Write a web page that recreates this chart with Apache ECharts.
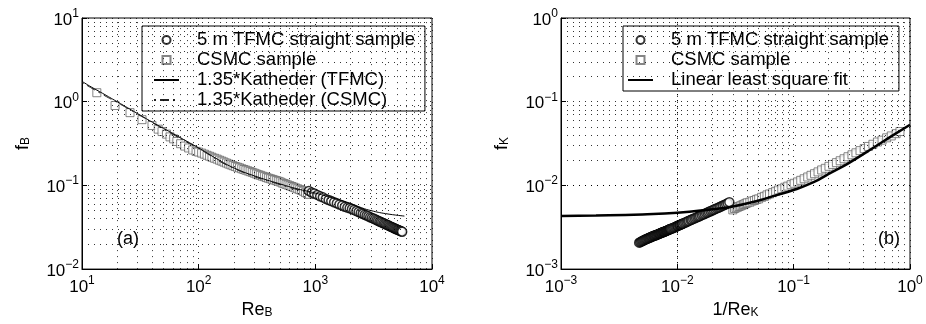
<!DOCTYPE html>
<html><head><meta charset="utf-8">
<script src="https://cdn.jsdelivr.net/npm/echarts@6/dist/echarts.min.js"></script>
<style>html,body{margin:0;padding:0;background:#fff}#c{width:926px;height:324px}</style>
</head><body><div id="c"></div>
<script>
// ---------- data ----------
const leftCsmc = [[13.4,1.28],[19.2,0.90],[25.8,0.74],[32.7,0.61],[39.8,0.52],[45,0.47],[48.5,0.44],[53,0.41],[56.8,0.38],[61,0.36],[65,0.335],[70,0.315],[76,0.295],[82,0.28],[89,0.265],[95,0.255],[100,0.25],[106,0.243],[112,0.236],[118,0.229],[124,0.223],[130,0.217],[137,0.211],[144,0.206],[151,0.2],[158,0.195],[165,0.19],[173,0.185],[181,0.18],[189,0.176],[197,0.172],[206,0.168],[215,0.165],[224,0.162],[234,0.158],[244,0.155],[254,0.152],[265,0.149],[276,0.146],[288,0.143],[300,0.14],[312,0.137],[325,0.134],[338,0.132],[352,0.129],[366,0.127],[381,0.124],[396,0.122],[412,0.12],[428,0.118],[445,0.116],[463,0.114],[481,0.112],[500,0.11],[520,0.107],[540,0.105],[561,0.103],[583,0.101],[606,0.099],[630,0.097],[655,0.095],[680,0.093],[707,0.091],[735,0.089],[763,0.087],[793,0.085],[824,0.082],[856,0.08],[890,0.078]];
const leftTfmc = [[880,0.086],[930,0.082],[980,0.08],[1040,0.077],[1100,0.074],[1160,0.072],[1230,0.069],[1300,0.067],[1370,0.065],[1450,0.063],[1530,0.0612],[1610,0.0592],[1700,0.0575],[1790,0.0557],[1880,0.0543],[1970,0.0533],[2060,0.0522],[2150,0.0508],[2250,0.0494],[2350,0.0481],[2450,0.0469],[2550,0.0458],[2650,0.0447],[2750,0.0436],[2850,0.0427],[2950,0.0417],[3050,0.0409],[3150,0.0401],[3250,0.0393],[3350,0.0385],[3450,0.0378],[3550,0.0371],[3650,0.0365],[3750,0.0358],[3850,0.0352],[3950,0.0347],[4050,0.0341],[4150,0.0336],[4250,0.0331],[4350,0.0326],[4450,0.0321],[4550,0.0317],[4650,0.0312],[4750,0.0308],[4850,0.0304],[4950,0.03],[5050,0.0296],[5150,0.0293],[5250,0.0289],[5350,0.0286],[5450,0.0283],[5550,0.028]];
const leftKathTfmc = [[10,1.75],[12,1.5],[15,1.26],[20,1.0],[30,0.72],[40,0.57],[50,0.48],[70,0.37],[100,0.28],[150,0.2],[200,0.162],[300,0.13],[500,0.104],[700,0.091],[1000,0.081],[1500,0.069],[2000,0.061],[2500,0.054],[3000,0.05],[4000,0.046],[5800,0.043]];
const leftKathCsmc = [[10,1.7],[15,1.22],[20,0.98],[30,0.71],[50,0.47],[100,0.275],[200,0.16],[500,0.102],[1000,0.079]];
const rightTfmc = [[0.0047,0.00207],[0.0048,0.0021],[0.0049,0.00213],[0.005,0.00216],[0.0051,0.00219],[0.0052,0.00222],[0.0053,0.00225],[0.0054,0.00228],[0.0055,0.0023],[0.0056,0.00233],[0.0057,0.00235],[0.0058,0.00238],[0.0059,0.0024],[0.006,0.00243],[0.0061,0.00245],[0.0062,0.00248],[0.0063,0.0025],[0.0064,0.00252],[0.0065,0.00254],[0.0066,0.00256],[0.0067,0.00258],[0.0068,0.0026],[0.0069,0.00263],[0.007,0.00265],[0.0071,0.00267],[0.0072,0.0027],[0.0073,0.00272],[0.0074,0.00274],[0.0075,0.00276],[0.0076,0.00278],[0.0077,0.0028],[0.0078,0.00282],[0.0079,0.00284],[0.008,0.00286],[0.0081,0.00288],[0.0082,0.0029],[0.0083,0.00292],[0.0084,0.00294],[0.0085,0.00297],[0.0086,0.00299],[0.0087,0.00301],[0.0088,0.00303],[0.009,0.00306],[0.0092,0.0031],[0.0094,0.00314],[0.0096,0.00318],[0.0098,0.00323],[0.01,0.00327],[0.0101,0.00329],[0.0103,0.00333],[0.0105,0.00337],[0.0106,0.00339],[0.0108,0.00343],[0.011,0.00347],[0.0111,0.00349],[0.0114,0.00354],[0.0117,0.0036],[0.012,0.00366],[0.0123,0.00372],[0.0126,0.00378],[0.013,0.00385],[0.0133,0.00391],[0.0137,0.00398],[0.0141,0.00405],[0.0145,0.00412],[0.0149,0.00419],[0.0153,0.00426],[0.0157,0.00433],[0.0162,0.00441],[0.0167,0.0045],[0.0172,0.00458],[0.0177,0.00466],[0.0182,0.00474],[0.0187,0.00483],[0.0193,0.00492],[0.0199,0.00502],[0.0205,0.00511],[0.0211,0.00521],[0.0218,0.00531],[0.0225,0.00542],[0.0232,0.00552],[0.0239,0.00563],[0.0247,0.00574],[0.0255,0.00586],[0.0263,0.00597],[0.0271,0.00611],[0.028,0.0063]];
const rightCsmc = [[0.03,0.0051],[0.031,0.0053],[0.032,0.0054],[0.033,0.0055],[0.034,0.0056],[0.035,0.0057],[0.036,0.0058],[0.037,0.0059],[0.038,0.006],[0.039,0.0061],[0.04,0.0062],[0.042,0.0063],[0.044,0.0065],[0.046,0.0066],[0.048,0.0068],[0.05,0.0069],[0.053,0.0072],[0.056,0.0074],[0.059,0.0077],[0.062,0.0079],[0.066,0.0082],[0.07,0.0085],[0.074,0.0088],[0.079,0.0091],[0.084,0.0095],[0.089,0.0098],[0.095,0.0102],[0.101,0.0106],[0.108,0.011],[0.115,0.0115],[0.123,0.012],[0.132,0.0126],[0.141,0.0132],[0.151,0.0138],[0.162,0.0145],[0.174,0.0153],[0.187,0.016],[0.201,0.0169],[0.216,0.0178],[0.233,0.0187],[0.251,0.0197],[0.271,0.0208],[0.293,0.022],[0.317,0.0232],[0.343,0.0245],[0.372,0.026],[0.404,0.0275],[0.44,0.0292],[0.48,0.031],[0.525,0.033],[0.575,0.0347],[0.63,0.037],[0.69,0.039],[0.76,0.0415],[0.82,0.044]];
const rightFit = [[0.001,0.00432],[0.002,0.00437],[0.005,0.0045],[0.01,0.0047],[0.02,0.0052],[0.03,0.0056],[0.05,0.0066],[0.07,0.0076],[0.1,0.0088],[0.15,0.011],[0.2,0.0137],[0.3,0.0186],[0.5,0.029],[0.7,0.039],[1.0,0.053]];
const leftXRange = [10, 10000], leftYRange = [0.01, 10];
const rightXRange = [0.001, 1], rightYRange = [0.001, 1];
const names = {
  tfmc: '5 m TFMC straight sample', csmc: 'CSMC sample',
  kt: '1.35*Katheder (TFMC)', kc: '1.35*Katheder (CSMC)', fit: 'Linear least square fit'
};
const axisNames = { lx: '{a|Re}{s|B}', ly: '{a|f}{s|B}', rx: '{a|1/Re}{s|K}', ry: '{a|f}{s|K}' };

// ---------- helpers ----------
const F = 'Liberation Sans, Arial, Helvetica, sans-serif';
function minorVals(min, max) {
  const out = [];
  for (let e = Math.round(Math.log10(min)); e < Math.round(Math.log10(max)); e++)
    for (let m = 2; m <= 9; m++) out.push(+(m * Math.pow(10, e)).toPrecision(6));
  return out;
}
function expLabel(v) {
  const e = Math.round(Math.log10(v));
  return '{b|10}{s|' + (e < 0 ? '\u2212' + (-e) : e) + '}';
}
const labRich = {
  b: { fontSize: 17, fontFamily: F, color: '#000', lineHeight: 21, verticalAlign: 'bottom' },
  s: { fontSize: 12, fontFamily: F, color: '#000', lineHeight: 12, verticalAlign: 'top' }
};
const nameRich = {
  a: { fontSize: 18, fontFamily: F, color: '#000', lineHeight: 18, verticalAlign: 'top' },
  s: { fontSize: 12, fontFamily: F, color: '#000', lineHeight: 12, verticalAlign: 'bottom' }
};
const dotted = { type: [1, 5], color: '#000', width: 1, opacity: 0.8 };
function mkAxis(dim, gi, range, name, gap) {
  return {
    type: 'log', logBase: 10, gridIndex: gi, min: range[0], max: range[1],
    name: name, nameLocation: 'middle', nameGap: gap, nameRotate: dim === 'y' ? 90 : 0,
    nameTextStyle: { rich: nameRich },
    axisLine: { show: true, onZero: false, lineStyle: { color: '#000', width: 1 } },
    axisTick: { show: true, inside: true, length: 5, lineStyle: { color: '#000' } },
    axisLabel: { margin: dim === 'y' ? 3 : 6, formatter: expLabel, rich: labRich, showMinLabel: true, showMaxLabel: true },
    splitLine: { show: true, lineStyle: dotted }
  };
}
function gridLines(xr, yr) {
  return {
    silent: true, symbol: 'none', animation: false,
    label: { show: false }, lineStyle: dotted, emphasis: { disabled: true },
    data: minorVals(xr[0], xr[1]).map(v => ({ xAxis: v })).concat(minorVals(yr[0], yr[1]).map(v => ({ yAxis: v })))
  };
}
const circleStyle = { color: '#fff', borderColor: '#000', borderWidth: 1.5 };
const squareStyle = { color: '#fff', borderColor: '#666', borderWidth: 1 };
const squareIcon = 'path://M0,0H10V10H0Z';
const legendText = { fontSize: 18.5, fontFamily: F, color: '#000', lineHeight: 20, padding: [0, 0, 0, 13] };
const legendBase = {
  orient: 'vertical', backgroundColor: '#fff', borderColor: '#000', borderWidth: 1,
  itemGap: 0, itemWidth: 25, itemHeight: 8, selectedMode: false, textStyle: legendText
};
const noSymbol = { color: 'rgba(0,0,0,0)', borderColor: 'rgba(0,0,0,0)' };

const chart = echarts.init(document.getElementById('c'), null, { renderer: 'canvas' });
chart.setOption({
  animation: false,
  backgroundColor: '#fff',
  grid: [
    { left: 82, top: 18, width: 350, height: 252, show: true, borderColor: '#000', borderWidth: 1 },
    { left: 561, top: 18, width: 349, height: 252, show: true, borderColor: '#000', borderWidth: 1 }
  ],
  xAxis: [mkAxis('x', 0, leftXRange, axisNames.lx, 31), mkAxis('x', 1, rightXRange, axisNames.rx, 31)],
  yAxis: [mkAxis('y', 0, leftYRange, axisNames.ly, 50), mkAxis('y', 1, rightYRange, axisNames.ry, 50)],
  legend: [
    Object.assign({}, legendBase, { left: 142, top: 26, padding: [4, 10, 1, 11],
      data: [names.tfmc, { name: names.csmc, icon: squareIcon }, names.kt, names.kc] }),
    Object.assign({}, legendBase, { left: 623, top: 26, padding: [4, 10, 1, 4],
      data: [names.tfmc, { name: names.csmc, icon: squareIcon }, names.fit] })
  ],
  graphic: [
    { type: 'text', left: 117, top: 230, style: { text: '(a)', fontSize: 18, fontFamily: F, fill: '#000' } },
    { type: 'text', left: 878, top: 230, style: { text: '(b)', fontSize: 18, fontFamily: F, fill: '#000' } }
  ],
  series: [
    // dotted minor grid holders (invisible lines)
    { type: 'line', xAxisIndex: 0, yAxisIndex: 0, data: leftKathTfmc, symbol: 'none', silent: true, z: 0,
      lineStyle: { opacity: 0 }, markLine: gridLines(leftXRange, leftYRange) },
    { type: 'line', xAxisIndex: 1, yAxisIndex: 1, data: rightFit, symbol: 'none', silent: true, z: 0,
      lineStyle: { opacity: 0 }, markLine: gridLines(rightXRange, rightYRange) },
    // left panel
    { name: names.csmc, type: 'scatter', xAxisIndex: 0, yAxisIndex: 0, data: leftCsmc, symbol: 'rect', symbolSize: 8, itemStyle: squareStyle, z: 2 },
    { name: names.tfmc, type: 'scatter', xAxisIndex: 0, yAxisIndex: 0, data: leftTfmc, symbol: 'circle', symbolSize: 9, itemStyle: circleStyle, z: 3 },
    { name: names.kt, type: 'line', xAxisIndex: 0, yAxisIndex: 0, data: leftKathTfmc, smooth: true, symbol: 'none', lineStyle: { color: '#000', width: 1 }, itemStyle: noSymbol, z: 4 },
    { name: names.kc, type: 'line', xAxisIndex: 0, yAxisIndex: 0, data: leftKathCsmc, smooth: true, symbol: 'none', lineStyle: { color: '#222', width: 1, type: [2, 4, 9, 4] }, itemStyle: noSymbol, z: 4 },
    // right panel
    { name: names.csmc, type: 'scatter', xAxisIndex: 1, yAxisIndex: 1, data: rightCsmc, symbol: 'rect', symbolSize: 8, itemStyle: squareStyle, z: 2 },
    { name: names.tfmc, type: 'scatter', xAxisIndex: 1, yAxisIndex: 1, data: rightTfmc, symbol: 'circle', symbolSize: 9, itemStyle: circleStyle, z: 3 },
    { name: names.fit, type: 'line', xAxisIndex: 1, yAxisIndex: 1, data: rightFit, smooth: true, symbol: 'none', lineStyle: { color: '#000', width: 2.5 }, itemStyle: noSymbol, z: 4 }
  ]
});
</script>
</body></html>
